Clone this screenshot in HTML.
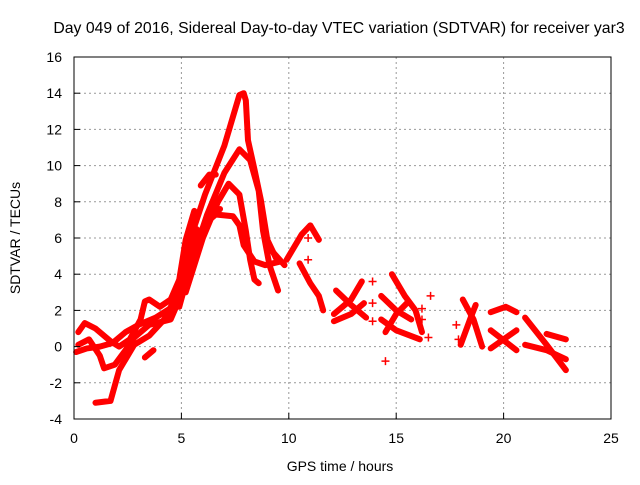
<!DOCTYPE html>
<html><head><meta charset="utf-8"><style>
body{margin:0;background:#fff}
svg text{font-family:"Liberation Sans",sans-serif;font-size:14px;fill:#000}
</style></head><body>
<svg id="chart" width="640" height="480">
<text x="339" y="33" text-anchor="middle" style="font-size:15.8px">Day 049 of 2016, Sidereal Day-to-day VTEC variation (SDTVAR) for receiver yar3</text>
<g id="grid"></g>
<g id="marks"></g>
<rect x="74" y="57" width="537" height="362" fill="none" stroke="#000"/>
<g id="axes"></g>
<text x="340" y="471" text-anchor="middle">GPS time / hours</text>
<text transform="translate(20,238) rotate(-90)" text-anchor="middle">SDTVAR / TECUs</text>
</svg>
<script>
const xTicks=[0,5,10,15,20,25];
const yTicks=[-4,-2,0,2,4,6,8,10,12,14,16];
const trackA=[[1.0,-3.1],[1.7,-3.0],[2.1,-1.3],[2.8,0.1],[3.5,0.6],[4.2,1.5],[4.9,3.1],[5.4,5.9],[6.1,8.4],[7.0,11.1],[7.7,13.9],[7.9,14.0],[8.0,13.6],[8.1,11.4],[8.4,9.8],[8.7,8.1],[9.0,5.9],[9.4,4.9]];
const trackB=[[4.9,2.2],[5.5,4.8],[6.2,7.3],[7.0,9.6],[7.7,10.9],[8.2,10.3],[8.6,8.6],[8.8,6.4],[9.1,4.5],[9.5,3.1]];
const trackC=[[5.2,3.0],[6.0,6.0],[6.7,8.0],[7.2,9.0],[7.7,8.4],[8.0,6.4],[8.2,4.8],[8.4,3.7],[8.6,3.5]];
const trackD=[[5.6,5.0],[6.1,6.8],[6.6,7.3],[7.4,7.2],[7.7,6.7],[7.9,5.6],[8.4,4.7],[8.9,4.5],[9.6,4.7]];
const trackE=[[0.2,0.8],[0.5,1.3],[1.0,1.0],[1.7,0.3],[2.1,0.0],[2.6,0.4],[3.1,1.5],[3.3,2.5],[3.5,2.6],[4.0,2.2],[4.5,2.6],[4.9,3.7],[5.2,5.9],[5.6,7.5]];
const trackF=[[0.2,0.1],[0.7,0.4],[1.2,-0.5],[1.4,-1.2],[1.9,-1.0],[2.4,-0.2],[2.8,0.5],[3.5,1.2],[4.5,1.5],[4.9,2.6],[5.4,4.2],[5.9,6.4],[6.3,7.0],[6.8,7.6]];
const trackG=[[0.1,-0.3],[0.6,-0.1],[1.2,0.0],[1.8,0.2],[2.4,0.8],[3.0,1.2],[3.8,1.6],[4.6,2.2],[5.2,4.5],[5.7,6.5]];
const seg1=[[3.3,-0.6],[3.7,-0.2]];
const seg2=[[5.9,8.9],[6.3,9.5],[6.6,9.5]];
const seg3=[[9.9,4.8],[10.6,6.2],[11.0,6.7],[11.4,5.9]];
const seg4=[[10.5,4.6],[11.0,3.5],[11.4,2.8],[11.6,2.0]];
const seg5=[[9.2,5.3],[9.8,4.5]];
const seg6=[[12.1,1.8],[12.9,2.6],[13.4,3.6]];
const seg7=[[12.2,3.1],[12.9,2.3],[13.6,1.6]];
const seg8=[[12.1,1.4],[12.9,1.8],[13.5,2.4]];
const seg9=[[14.8,4.0],[15.4,2.8],[15.9,2.0],[16.2,0.8]];
const seg10=[[14.3,2.8],[15.0,2.0],[15.7,1.5]];
const seg11=[[14.3,1.5],[15.0,0.9],[16.1,0.4]];
const seg12=[[14.5,0.8],[15.0,1.8],[15.5,2.4]];
const seg13=[[18.1,2.6],[18.6,1.5],[19.0,0.0]];
const seg14=[[18.0,0.1],[18.5,1.7],[18.7,2.3]];
const seg15=[[19.4,1.9],[20.1,2.2],[20.6,1.9]];
const seg16=[[19.4,0.9],[20.6,-0.2]];
const seg17=[[19.4,-0.1],[20.6,0.9]];
const seg18=[[21.0,1.6],[22.0,0.1],[22.9,-1.3]];
const seg19=[[21.0,0.1],[22.0,-0.2],[22.9,-0.7]];
const seg20=[[22.0,0.7],[22.9,0.4]];
const plusPts=[[10.9,6.0],[10.9,4.8],[13.9,3.6],[13.9,2.4],[13.9,1.4],[16.2,2.1],[16.2,1.5],[16.5,0.5],[16.6,2.8],[17.8,1.2],[17.9,0.4],[14.5,-0.8]];
const tracks=[trackA,trackB,trackC,trackD,trackE,trackF,trackG,seg1,seg2,seg3,seg4,seg5,seg6,seg7,seg8,seg9,seg10,seg11,seg12,seg13,seg14,seg15,seg16,seg17,seg18,seg19,seg20];
const X0=74,X1=611,Y0=419,Y1=57;
function sx(v){return X0+(v-0)/(25-0)*(X1-X0);}
function sy(v){return Y0-(v+4)/(16+4)*(Y0-Y1);}
const NS='http://www.w3.org/2000/svg';
const grid=document.getElementById('grid'),axes=document.getElementById('axes'),marks=document.getElementById('marks');
xTicks.forEach(t=>{
 const x=sx(t);
 if(t>0&&t<25){const l=document.createElementNS(NS,'line');l.setAttribute('x1',x);l.setAttribute('x2',x);l.setAttribute('y1',Y1);l.setAttribute('y2',Y0);l.setAttribute('stroke','#999');l.setAttribute('stroke-dasharray','2,3');
 
 grid.appendChild(l);}
 const tk=document.createElementNS(NS,'line');tk.setAttribute('x1',x);tk.setAttribute('x2',x);tk.setAttribute('y1',Y0);tk.setAttribute('y2',Y0-6);tk.setAttribute('stroke','#000');
 
 axes.appendChild(tk);
 const tx=document.createElementNS(NS,'text');tx.setAttribute('x',x);tx.setAttribute('y',443);tx.setAttribute('text-anchor','middle');tx.textContent=t;
 
 axes.appendChild(tx);
});
yTicks.forEach(t=>{
 const y=sy(t);
 if(t>-4&&t<16){const l=document.createElementNS(NS,'line');l.setAttribute('x1',X0);l.setAttribute('x2',X1);l.setAttribute('y1',y);l.setAttribute('y2',y);l.setAttribute('stroke','#999');l.setAttribute('stroke-dasharray','2,3');
 
 grid.appendChild(l);}
 const tk=document.createElementNS(NS,'line');tk.setAttribute('x1',X0);tk.setAttribute('x2',X0+6);tk.setAttribute('y1',y);tk.setAttribute('y2',y);tk.setAttribute('stroke','#000');
 
 axes.appendChild(tk);
 const tx=document.createElementNS(NS,'text');tx.setAttribute('x',62);tx.setAttribute('y',y+5);tx.setAttribute('text-anchor','end');tx.textContent=t;
 
 axes.appendChild(tx);
});
tracks.forEach(tr=>{
 const p=document.createElementNS(NS,'polyline');
 p.setAttribute('points',tr.map(d=>sx(d[0])+','+sy(d[1])).join(' '));
 p.setAttribute('fill','none');p.setAttribute('stroke','#f00');p.setAttribute('stroke-width','6');p.setAttribute('stroke-linejoin','round');p.setAttribute('stroke-linecap','round');
 
 
 marks.appendChild(p);
});
plusPts.forEach(d=>{
 const x=sx(d[0]),y=sy(d[1]);
 const p=document.createElementNS(NS,'path');
 p.setAttribute('d',`M${x-4},${y}H${x+4}M${x},${y-4}V${y+4}`);
 p.setAttribute('stroke','#f00');p.setAttribute('stroke-width','1.5');
 
 
 marks.appendChild(p);
});
</script>
</body></html>
